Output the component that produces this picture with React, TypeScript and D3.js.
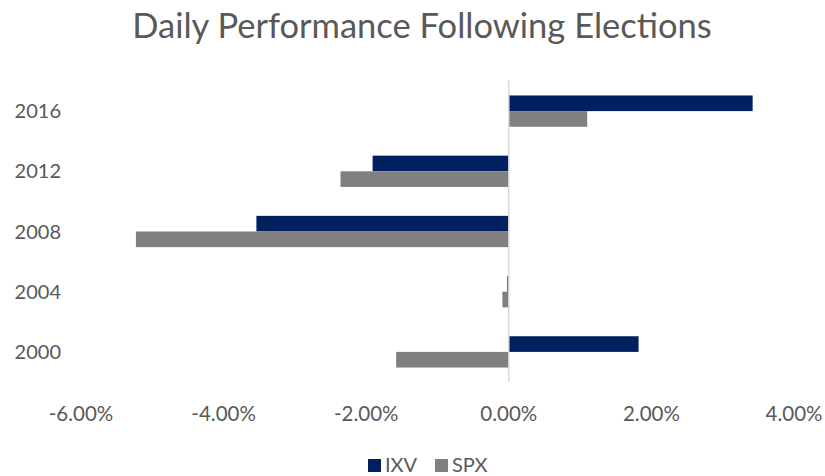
import React from "react";
import * as d3 from "d3";

const categories = ["2016", "2012", "2008", "2004", "2000"];
const seriesNames = ["IXV", "SPX"];
const ixv = [3.42, -1.91, -3.54, -0.02, 1.82];
const spx = [1.1, -2.36, -5.23, -0.09, -1.58];
const xTicks = [-6, -4, -2, 0, 2, 4];
const colors = ["#002060", "#808080"];

const W = 825;
const H = 476;

export default function App() {
  const x = d3.scaleLinear().domain([-6, 4]).range([81, 794]);
  const y = d3.scaleBand().domain(categories).range([81, 382]).paddingInner(0.48).paddingOuter(0.24);
  const inner = d3.scaleBand().domain(seriesNames).range([0, y.bandwidth()]);
  const series = [ixv, spx];
  const textColor = "#595959";
  const font = "Lato, 'Open Sans', sans-serif";
  const fmt = (t: number) => d3.format(".2f")(t).replace("\u2212", "-") + "%";

  return (
    <svg width={W} height={H} style={{ position: "absolute", left: 0, top: 0, background: "#fff" }}>
      <text x={422} y={38} textAnchor="middle" fontFamily={font} fontSize={34.5} fill={textColor}>
        Daily Performance Following Elections
      </text>
      {series.map((vals, si) =>
        vals.map((v, i) => {
          const x0 = x(Math.min(0, v));
          const x1 = x(Math.max(0, v));
          return (
            <rect
              key={`${si}-${i}`}
              x={x0}
              y={(y(categories[i]) as number) + (inner(seriesNames[si]) as number)}
              width={Math.max(1, x1 - x0)}
              height={inner.bandwidth()}
              fill={colors[si]}
            />
          );
        })
      )}
      <line x1={x(0)} x2={x(0)} y1={80} y2={382} stroke="#d9d9d9" strokeWidth={1.5} />
      {categories.map((c) => (
        <text
          key={c}
          x={61}
          y={(y(c) as number) + y.bandwidth() / 2}
          dy="0.35em"
          textAnchor="end"
          fontFamily={font}
          fontSize={20}
          fill={textColor}
        >
          {c}
        </text>
      ))}
      {xTicks.map((t) => (
        <text key={t} x={x(t)} y={421} textAnchor="middle" fontFamily={font} fontSize={20.5} fill={textColor}>
          {fmt(t)}
        </text>
      ))}
      {seriesNames.map((s, i) => (
        <g key={s} transform={`translate(${i === 0 ? 368 : 435},459)`}>
          <rect width={13} height={13} fill={colors[i]} />
          <text x={17} y={13} fontFamily={font} fontSize={20} fill={textColor}>
            {s}
          </text>
        </g>
      ))}
    </svg>
  );
}
